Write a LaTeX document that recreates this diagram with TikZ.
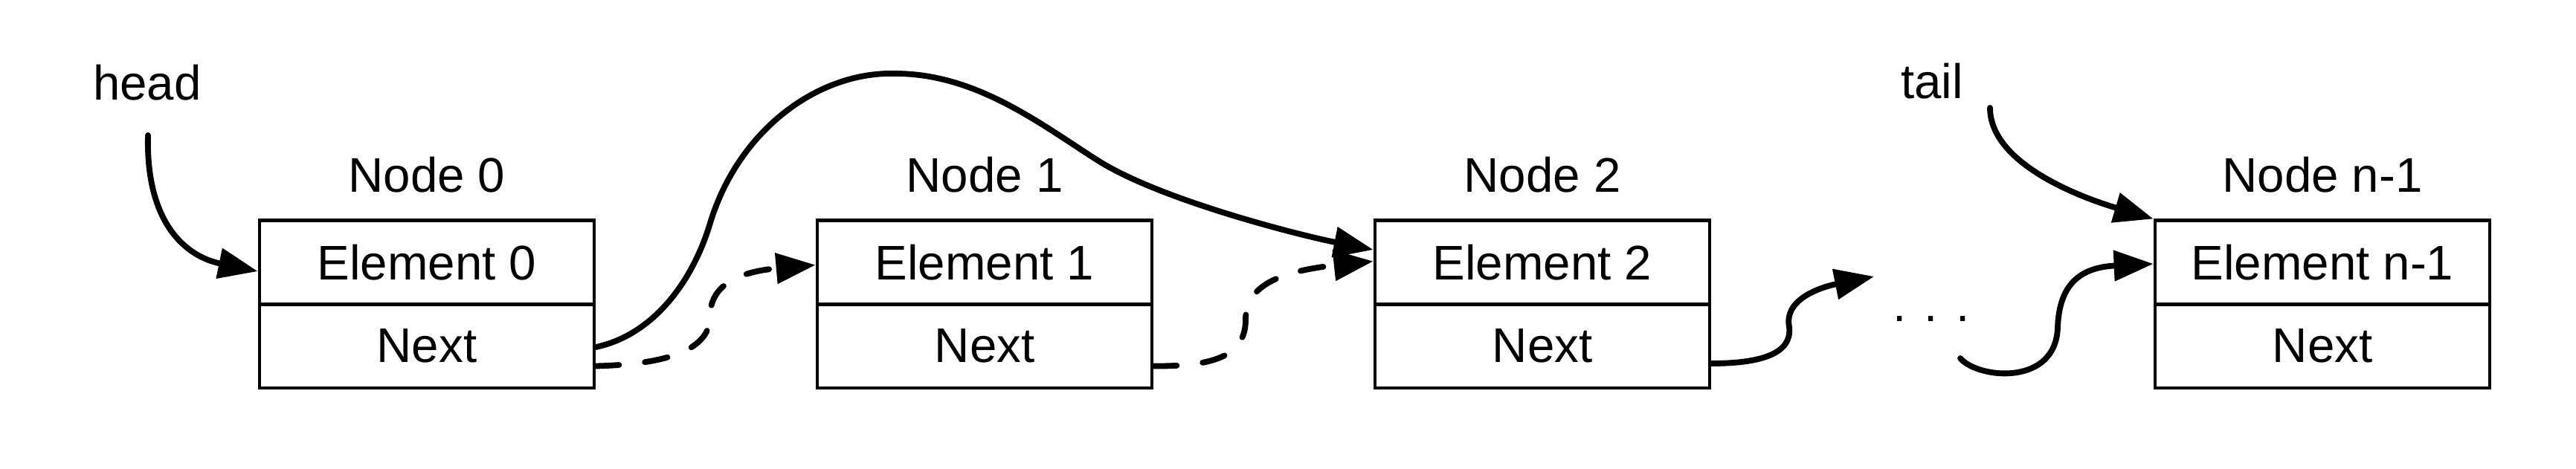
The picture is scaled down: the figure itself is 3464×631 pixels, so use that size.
\documentclass[tikz,border=0pt]{standalone}
\usepackage{fontspec}
\setmainfont{Liberation Sans}
\usetikzlibrary{arrows.meta,calc}
\begin{document}
\begin{tikzpicture}[x=0.01cm, y=-0.01cm,
  txt/.style={font=\fontsize{18.6pt}{22pt}\selectfont, inner sep=0pt},
  cell/.style={draw, line width=0.045cm, minimum width=4.5cm, minimum height=1.125cm, inner sep=0pt, txt},
  lbl/.style={txt, anchor=base},
  conn/.style={line width=0.078cm, line cap=round, -{Triangle[length=0.53cm,width=0.40cm]}},
  dconn/.style={conn, dash pattern=on 0.31cm off 0.35cm}]
\path[use as bounding box] (0,0) rectangle (3464,631);

% list nodes
\node[cell] (e0) at (574,353) {Element 0};
\node[cell] (n0) at (574,465.5) {Next};
\node[cell] (e1) at (1324,353) {Element 1};
\node[cell] (n1) at (1324,465.5) {Next};
\node[cell] (e2) at (2074,353) {Element 2};
\node[cell] (n2) at (2074,465.5) {Next};
\node[cell] (e3) at (3123,353) {Element n-1};
\node[cell] (n3) at (3123,465.5) {Next};

% labels
\node[lbl] (l0) at (574,259) {Node 0};
\node[lbl] (l1) at (1324,259) {Node 1};
\node[lbl] (l2) at (2074,259) {Node 2};
\node[lbl] (l3) at (3123,259) {Node n-1};
\node[lbl] (head) at (198,135) {head};
\node[lbl] (tail) at (2598,133) {tail};
\node[lbl] (dots) at (2597,433) {. . .};
\coordinate (dotin) at (2520,372);
\coordinate (dotout) at (2636,482);

% connectors
\draw[conn] ($(head.base)+(1,47)$) .. controls +(-3,118) and +(-97,-20) .. ($(e0.west)+(0,12)$);
\draw[conn] ($(n0.east)+(0,1.5)$) .. controls (880,450) and (932,377) .. (955,300)
  .. controls (993,175) and (1100,96) .. (1204,99)
  .. controls (1314,99) and (1402,169) .. (1478,217)
  .. controls (1563,270) and (1750,317) .. ($(e2.west)+(0,-17)$);
\draw[dconn] ($(n0.east)+(0,27)$) .. controls (900,490) and (955,470) .. (955,425)
  .. controls (955,380) and (1000,365) .. ($(e1.west)+(0,3.5)$);
\draw[dconn] ($(n1.east)+(0,27)$) .. controls (1630,493) and (1675,480) .. (1675,430)
  .. controls (1675,385) and (1720,365) .. ($(e2.west)+(0,-1.5)$);
\draw[conn] ($(n2.east)+(0,23.5)$) .. controls (2370,489) and (2410,475) .. (2406,440)
  .. controls (2398,400) and (2455,385) .. (dotin);
\draw[conn] (dotout) .. controls (2660,510) and (2765,520) .. (2767,440)
  .. controls (2769,390) and (2790,360) .. ($(e3.west)+(0,2)$);
\draw[conn] ($(tail.base)+(78,12)$) .. controls +(0,75) and +(-98,-29) .. (e3.north west);
\end{tikzpicture}
\end{document}
